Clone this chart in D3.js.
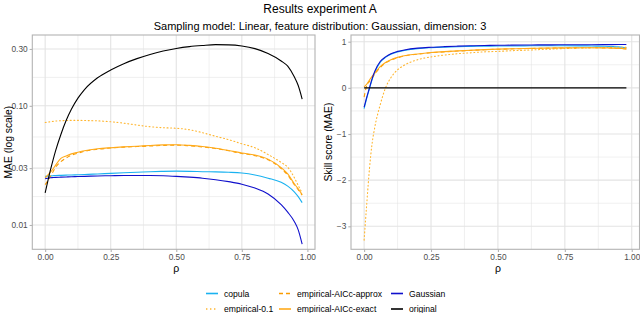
<!DOCTYPE html>
<html><head><meta charset="utf-8">
<script src="https://cdn.jsdelivr.net/npm/d3@7/dist/d3.min.js"></script>
<style>
html,body{margin:0;padding:0;background:#fff;}
text{font-family:"Liberation Sans",Arial,Helvetica,sans-serif;}
</style></head>
<body><svg id="chart" width="640" height="313"></svg>
<script>
// ---------------- data ----------------
const title = "Results experiment A";
const subtitle = "Sampling model: Linear, feature distribution: Gaussian, dimension: 3";
const rho = [0, 0.01, 0.02, 0.03, 0.04, 0.06, 0.08, 0.1, 0.125, 0.15, 0.2, 0.25, 0.3, 0.35, 0.4, 0.45, 0.5, 0.55, 0.6, 0.65, 0.7, 0.75, 0.8, 0.85, 0.9, 0.925, 0.95, 0.965, 0.98];
const methods = ["copula", "empirical-0.1", "empirical-AICc-approx", "empirical-AICc-exact", "Gaussian", "original"];

const maeCopula   = [0.0256,0.0257,0.0258,0.0259,0.026,0.0261,0.0262,0.0263,0.0264,0.0265,0.0268,0.0271,0.0274,0.0277,0.028,0.0282,0.0283,0.0282,0.028,0.0279,0.0277,0.0273,0.0263,0.0247,0.0228,0.0212,0.019,0.0173,0.0154];
const maeEmp01    = [0.0725,0.073,0.0735,0.074,0.0745,0.075,0.0753,0.0755,0.0755,0.0753,0.0748,0.0735,0.0715,0.069,0.0668,0.0655,0.0648,0.063,0.0595,0.0555,0.052,0.048,0.0445,0.039,0.0335,0.0305,0.025,0.0215,0.0185];
const maeApprox   = [0.0218,0.0235,0.0255,0.028,0.0305,0.034,0.0365,0.0385,0.04,0.0415,0.0432,0.0442,0.045,0.0455,0.046,0.0465,0.0468,0.0462,0.0452,0.0438,0.042,0.0398,0.0382,0.0352,0.0298,0.0262,0.0218,0.0198,0.0178];
const maeExact    = [0.0249,0.0262,0.0278,0.0295,0.0318,0.0362,0.038,0.0395,0.0408,0.042,0.0436,0.0445,0.0452,0.0458,0.0465,0.047,0.0472,0.0466,0.0456,0.0441,0.0422,0.0402,0.0386,0.0357,0.0303,0.0268,0.0222,0.0201,0.018];
const maeGaussian = [0.0245,0.0247,0.0249,0.025,0.0251,0.0252,0.0253,0.0254,0.0255,0.0256,0.0258,0.0259,0.026,0.026,0.026,0.0259,0.0256,0.0252,0.0247,0.024,0.0231,0.022,0.0204,0.0182,0.0148,0.0128,0.0107,0.0091,0.0069];
const maeOriginal = [0.0186,0.0232,0.0288,0.035,0.042,0.0575,0.0752,0.0935,0.116,0.137,0.172,0.2,0.226,0.249,0.27,0.288,0.303,0.314,0.321,0.326,0.325,0.318,0.302,0.275,0.238,0.215,0.175,0.148,0.114];

const skillCopula   = [-0.45,-0.22,-0.02,0.18,0.34,0.55,0.66,0.73,0.78,0.81,0.85,0.87,0.883,0.892,0.898,0.903,0.906,0.908,0.91,0.912,0.912,0.912,0.91,0.907,0.9,0.895,0.888,0.88,0.868];
const skillEmp01    = [-3.3,-2.5,-1.75,-1.2,-0.85,-0.37,0.0,0.22,0.39,0.49,0.61,0.67,0.71,0.74,0.76,0.78,0.79,0.805,0.815,0.828,0.84,0.852,0.862,0.868,0.874,0.877,0.879,0.879,0.876];
const skillApprox   = [-0.2,0.05,0.14,0.22,0.3,0.44,0.54,0.6,0.65,0.69,0.73,0.76,0.78,0.797,0.812,0.825,0.836,0.844,0.85,0.856,0.861,0.865,0.867,0.868,0.865,0.86,0.854,0.849,0.843];
const skillExact    = [0.02,0.08,0.17,0.25,0.32,0.46,0.55,0.61,0.66,0.695,0.735,0.765,0.785,0.8,0.815,0.828,0.838,0.846,0.852,0.858,0.863,0.867,0.869,0.87,0.867,0.862,0.856,0.851,0.845];
const skillGaussian = [-0.42,-0.2,0.0,0.2,0.36,0.57,0.67,0.74,0.79,0.82,0.86,0.88,0.893,0.903,0.912,0.918,0.922,0.925,0.928,0.93,0.932,0.933,0.934,0.935,0.936,0.937,0.938,0.939,0.94];
const skillOriginal = [0,0,0,0,0,0,0,0,0,0,0,0,0,0,0,0,0,0,0,0,0,0,0,0,0,0,0,0,0];

const xTicks = [0, 0.25, 0.5, 0.75, 1];
const xMinor = [0.125, 0.375, 0.625, 0.875];
const leftTicks = [0.01, 0.03, 0.10, 0.30];
const leftTickLabels = ["0.01", "0.03", "0.10", "0.30"];
const leftMinor = [Math.sqrt(0.01*0.03), Math.sqrt(0.03*0.1), Math.sqrt(0.1*0.3)];
const rightTicks = [-3, -2, -1, 0, 1];
const rightMinor = [-2.5, -1.5, -0.5, 0.5];

// ---------------- styles ----------------
const style = {
  "copula":               {color:"#1AB2F0", dash:null,  width:1.1},
  "empirical-0.1":        {color:"#FFB630", dash:"1,2.6", width:1.1},
  "empirical-AICc-approx":{color:"#F99B00", dash:"4,3", width:1.1},
  "empirical-AICc-exact": {color:"#FFAA1A", dash:null,  width:1.1},
  "Gaussian":             {color:"#1010CC", dash:null,  width:1.1},
  "original":             {color:"#000000", dash:null,  width:1.1}
};
const maeSeries = [maeCopula, maeEmp01, maeApprox, maeExact, maeGaussian, maeOriginal];
const skillSeries = [skillCopula, skillEmp01, skillApprox, skillExact, skillGaussian, skillOriginal];

const svg = d3.select("#chart");
svg.append("rect").attr("width",640).attr("height",313).attr("fill","#fff");

const gridCol = "#E3E3E3", borderCol = "#B3B3B3", tickTextCol = "#4D4D4D";

function panel(opts){
  const {x0,x1,y0,y1,xScale,yScale,yTicks,yLabels,yMinor,yTitle,yTitleX,series} = opts;
  const g = svg.append("g");
  xMinor.forEach(v=>g.append("line").attr("x1",xScale(v)).attr("x2",xScale(v)).attr("y1",y0).attr("y2",y1).attr("stroke",gridCol).attr("stroke-width",0.55));
  yMinor.forEach(v=>g.append("line").attr("x1",x0).attr("x2",x1).attr("y1",yScale(v)).attr("y2",yScale(v)).attr("stroke",gridCol).attr("stroke-width",0.55));
  xTicks.forEach(v=>g.append("line").attr("x1",xScale(v)).attr("x2",xScale(v)).attr("y1",y0).attr("y2",y1).attr("stroke",gridCol).attr("stroke-width",1.1));
  yTicks.forEach(v=>g.append("line").attr("x1",x0).attr("x2",x1).attr("y1",yScale(v)).attr("y2",yScale(v)).attr("stroke",gridCol).attr("stroke-width",1.1));
  const clipId = "clip"+Math.round(x0);
  svg.append("clipPath").attr("id",clipId).append("rect").attr("x",x0).attr("y",y0).attr("width",x1-x0).attr("height",y1-y0);
  const line = d3.line().x(d=>xScale(d[0])).y(d=>yScale(d[1])).curve(d3.curveMonotoneX);
  methods.forEach((m,i)=>{
    const pts = rho.map((r,j)=>[r, series[i][j]]);
    const p = g.append("path").attr("d",line(pts)).attr("fill","none")
      .attr("stroke",style[m].color).attr("stroke-width",style[m].width)
      .attr("clip-path","url(#"+clipId+")").attr("stroke-linejoin","round");
    if(style[m].dash){ p.attr("stroke-dasharray",style[m].dash); if(m==="empirical-0.1") p.attr("stroke-linecap","round"); }
  });
  g.append("rect").attr("x",x0).attr("y",y0).attr("width",x1-x0).attr("height",y1-y0)
    .attr("fill","none").attr("stroke",borderCol).attr("stroke-width",1.1);
  const xa = g.append("g").attr("transform",`translate(0,${y1})`)
    .call(d3.axisBottom(xScale).tickValues(xTicks).tickFormat(d3.format(".2f")).tickSize(2.7).tickPadding(2));
  xa.select(".domain").remove();
  xa.selectAll(".tick line").attr("stroke",borderCol).attr("stroke-width",1.1);
  xa.selectAll(".tick text").attr("fill",tickTextCol).attr("font-size","8.3px").attr("font-family","Liberation Sans, Arial, sans-serif");
  const ya = g.append("g").attr("transform",`translate(${x0},0)`)
    .call(d3.axisLeft(yScale).tickValues(yTicks).tickFormat((d,i)=>yLabels[i]).tickSize(2.7).tickPadding(2));
  ya.select(".domain").remove();
  ya.selectAll(".tick line").attr("stroke",borderCol).attr("stroke-width",1.1);
  ya.selectAll(".tick text").attr("fill",tickTextCol).attr("font-size","8.3px").attr("font-family","Liberation Sans, Arial, sans-serif");
  g.append("text").attr("x",(xScale(0)+xScale(1))/2).attr("y",272).attr("text-anchor","middle")
    .attr("font-size","10.5px").attr("fill","#000").text("ρ");
  g.append("text").attr("transform",`translate(${yTitleX},${(y0+y1)/2}) rotate(-90)`).attr("text-anchor","middle")
    .attr("dominant-baseline","central").attr("font-size","10.3px").attr("fill","#000").text(yTitle);
}

const py0 = 35, py1 = 249.3;
const xL = d3.scaleLinear().domain([-0.049, 1.029]).range([32.3, 315]);
const yL = d3.scaleLog().domain([0.00625, 0.393]).range([py1, py0]);
panel({x0:32.3,x1:315,y0:py0,y1:py1,xScale:xL,yScale:yL,yTicks:leftTicks,yLabels:leftTickLabels,yMinor:leftMinor,
  yTitle:"MAE (log scale)",yTitleX:8,series:maeSeries});

const xR = d3.scaleLinear().domain([-0.049, 1.029]).range([351, 639.5]);
const yR = d3.scaleLinear().domain([-3.498, 1.145]).range([py1, py0]);
panel({x0:351,x1:639.5,y0:py0,y1:py1,xScale:xR,yScale:yR,yTicks:rightTicks,yLabels:rightTicks.map(v=>v<0?"\u2212"+Math.abs(v):String(v)),yMinor:rightMinor,
  yTitle:"Skill score (MAE)",yTitleX:328,series:skillSeries});

svg.append("text").attr("x",320).attr("y",13).attr("text-anchor","middle").attr("font-size","12px").attr("fill","#000").text(title);
svg.append("text").attr("x",320).attr("y",29.5).attr("text-anchor","middle").attr("font-size","11px").attr("fill","#000").text(subtitle);

const legendCols = [206, 279, 391];
const legendRows = [293.5, 309];
const legendOrder = [["copula","empirical-0.1"],["empirical-AICc-approx","empirical-AICc-exact"],["Gaussian","original"]];
const lg = svg.append("g");
legendOrder.forEach((col,ci)=>col.forEach((m,ri)=>{
  const x = legendCols[ci], y = legendRows[ri];
  const l = lg.append("line").attr("x1",x).attr("x2",x+12).attr("y1",y).attr("y2",y)
    .attr("stroke",style[m].color).attr("stroke-width",1.6);
  if(style[m].dash){ l.attr("stroke-dasharray", m==="empirical-0.1" ? "1.4,2.6" : "4,3"); }
  lg.append("text").attr("x",x+18).attr("y",y).attr("dominant-baseline","central")
    .attr("font-size","8.6px").attr("fill","#000").text(m);
}));
</script></body></html>
